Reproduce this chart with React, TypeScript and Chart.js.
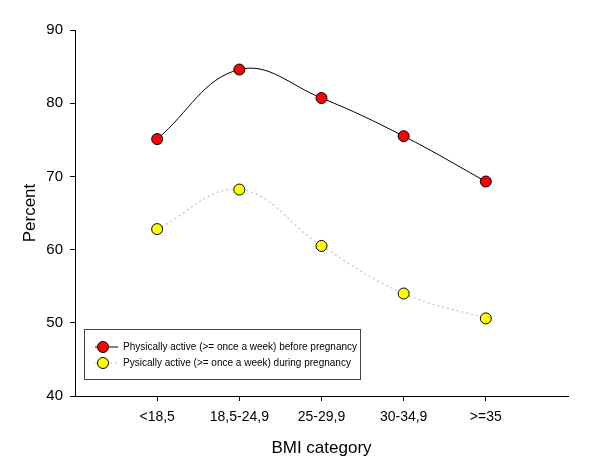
import React, { useEffect, useRef } from "react";
import { Chart, registerables } from "chart.js";

Chart.register(...registerables);

const categories = ["<18,5", "18,5-24,9", "25-29,9", "30-34,9", ">=35"];
const beforePregnancy = [75.1, 84.6, 80.7, 75.5, 69.3];
const duringPregnancy = [62.8, 68.2, 60.5, 54.0, 50.6];
const yTicks = [40, 50, 60, 70, 80, 90];
const seriesLabels = [
  "Physically active (>= once a week) before pregnancy",
  "Pysically active (>= once a week) during pregnancy",
];

const FONT = "'Liberation Sans', Arial, sans-serif";

const legendPlugin = {
  id: "insideLegend",
  afterDraw(chart: any) {
    const ctx = chart.ctx;
    const { left, bottom } = chart.chartArea;
    const x0 = left + 9;
    const y0 = bottom - 67;
    const w = 276;
    const h = 50;
    ctx.save();
    ctx.fillStyle = "#fff";
    ctx.fillRect(x0, y0, w, h);
    ctx.strokeStyle = "#444";
    ctx.lineWidth = 1;
    ctx.strokeRect(x0 + 0.5, y0 + 0.5, w, h);
    chart.data.datasets.forEach((ds: any, i: number) => {
      const cy = y0 + 18 + i * 16;
      ctx.strokeStyle = ds.borderColor;
      ctx.lineWidth = 1;
      ctx.setLineDash(ds.borderDash || []);
      ctx.beginPath();
      ctx.moveTo(x0 + 11, cy);
      ctx.lineTo(x0 + 34, cy);
      ctx.stroke();
      ctx.setLineDash([]);
      ctx.beginPath();
      ctx.arc(x0 + 19, cy, 5.5, 0, Math.PI * 2);
      ctx.fillStyle = ds.pointBackgroundColor;
      ctx.fill();
      ctx.strokeStyle = "#000";
      ctx.stroke();
      ctx.fillStyle = "#000";
      ctx.font = `10px ${FONT}`;
      ctx.textBaseline = "middle";
      ctx.textAlign = "left";
      ctx.fillText(ds.label, x0 + 39, cy);
    });
    ctx.restore();
  },
};

export default function App() {
  const ref = useRef<HTMLCanvasElement>(null);
  useEffect(() => {
    if (!ref.current) return;
    const chart = new Chart(ref.current, {
      type: "line",
      data: {
        datasets: [
          {
            label: seriesLabels[0],
            data: beforePregnancy.map((v, i) => ({ x: i + 1, y: v })),
            borderColor: "#000",
            borderWidth: 1,
            tension: 0.4,
            pointRadius: 5.5,
            pointBackgroundColor: "#ff0000",
            pointBorderColor: "#000",
            pointBorderWidth: 1,
          },
          {
            label: seriesLabels[1],
            data: duringPregnancy.map((v, i) => ({ x: i + 1, y: v })),
            borderColor: "#c4c4c4",
            borderWidth: 1.2,
            borderDash: [2, 3],
            tension: 0.4,
            pointRadius: 5.5,
            pointBackgroundColor: "#ffff00",
            pointBorderColor: "#000",
            pointBorderWidth: 1,
          },
        ],
      },
      options: {
        animation: false,
        responsive: false,
        layout: { padding: { top: 30, right: 33, left: 0, bottom: 0 } },
        plugins: { legend: { display: false }, tooltip: { enabled: false } },
        scales: {
          x: {
            type: "linear",
            min: 0,
            max: 6,
            afterBuildTicks: (scale: any) => {
              scale.ticks = categories.map((_, i) => ({ value: i + 1 }));
            },
            afterFit: (scale: any) => {
              scale.height = 80;
            },
            ticks: {
              callback: (v: any) => categories[Number(v) - 1] ?? "",
              color: "#000",
              font: { family: FONT, size: 14 },
              padding: 8,
              maxRotation: 0,
            },
            grid: {
              drawOnChartArea: false,
              drawTicks: true,
              tickLength: 5,
              tickColor: "#000",
            },
            border: { color: "#000", width: 1 },
            title: {
              display: true,
              text: "BMI category",
              color: "#000",
              font: { family: FONT, size: 17 },
              padding: { top: 12, bottom: 17 },
            },
          },
          y: {
            min: 40,
            max: 90,
            afterBuildTicks: (scale: any) => {
              scale.ticks = yTicks.map((v) => ({ value: v }));
            },
            afterFit: (scale: any) => {
              scale.width = 75;
            },
            ticks: {
              color: "#000",
              font: { family: FONT, size: 15 },
              padding: 7,
            },
            grid: {
              drawOnChartArea: false,
              drawTicks: true,
              tickLength: 5,
              tickColor: "#000",
            },
            border: { color: "#000", width: 1 },
            title: {
              display: true,
              text: "Percent",
              color: "#000",
              font: { family: FONT, size: 17 },
              padding: { top: 20, bottom: 4 },
            },
          },
        },
      },
      plugins: [legendPlugin],
    } as any);
    return () => chart.destroy();
  }, []);
  return (
    <div style={{ position: "absolute", left: 0, top: 0, width: 601, height: 476, background: "#fff" }}>
      <canvas ref={ref} width={601} height={476} style={{ width: 601, height: 476 }} />
    </div>
  );
}
